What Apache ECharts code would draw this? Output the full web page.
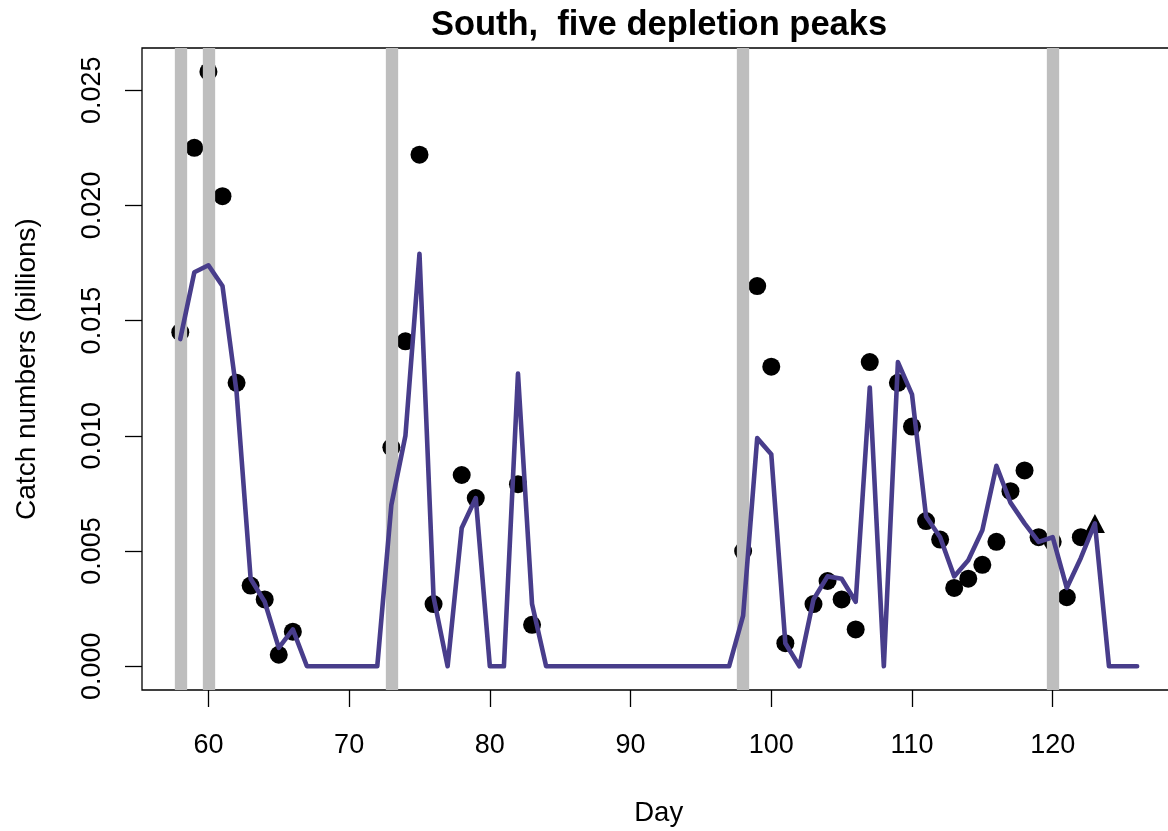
<!DOCTYPE html>
<html>
<head>
<meta charset="utf-8">
<script src="https://cdn.jsdelivr.net/npm/echarts@6/dist/echarts.min.js"></script>
<style>
html,body{margin:0;padding:0;background:#fff;}
#chart{width:1168px;height:831px;}
</style>
</head>
<body>
<div id="chart"></div>
<script>
// ---- data ----
const lineDays = [58,59,60,61,62,63,64,65,66,67,68,69,70,71,72,73,74,75,76,77,78,79,80,81,82,83,
  84,85,86,87,88,89,90,91,92,93,94,95,96,97,98,99,100,101,102,103,104,105,106,107,108,109,110,
  111,112,113,114,115,116,117,118,119,120,121,122,123,124,125,126];
const lineValues = [0.0142,0.0171,0.0174,0.0165,0.0119,0.0038,0.0028,0.0008,0.0016,0,0,0,0,0,0,
  0.0070,0.0100,0.0179,0.0030,0,0.0060,0.0073,0,0,0.0127,0.0027,
  0,0,0,0,0,0,0,0,0,0,0,0,0,0,
  0.0022,0.0099,0.0092,0.0010,0,0.0029,0.0039,0.0038,0.0028,0.0121,0,0.0132,0.0118,
  0.0065,0.0056,0.0039,0.0046,0.0059,0.0087,0.0071,0.0062,0.0054,0.0056,0.0034,0.0047,0.0062,0,0,0];
const obsDays = [58,59,60,61,62,63,64,65,66,73,74,75,76,78,79,82,83,98,99,100,101,103,104,105,106,107,
  109,110,111,112,113,114,115,116,117,118,119,120,121,122];
const obsValues = [0.0145,0.0225,0.0258,0.0204,0.0123,0.0035,0.0029,0.0005,0.0015,
  0.0095,0.0141,0.0222,0.0027,0.0083,0.0073,0.0079,0.0018,
  0.0050,0.0165,0.0130,0.0010,0.0027,0.0037,0.0029,0.0016,0.0132,
  0.0123,0.0104,0.0063,0.0055,0.0034,0.0038,0.0044,0.0054,0.0076,0.0085,0.0056,0.0054,0.0030,0.0056];
const lastDay = [123];
const lastValue = [0.0062];
const peakDays = [58,60,73,98,120];
const xTicks = [60,70,80,90,100,110,120];
const yTicks = [0,0.005,0.010,0.015,0.020,0.025];
const titleText = 'South,  five depletion peaks';
const xName = 'Day';
const yName = 'Catch numbers (billions)';

// ---- chart ----
const font = "'Liberation Sans', Arial, Helvetica, sans-serif";
const chart = echarts.init(document.getElementById('chart'), null, {renderer:'canvas'});
const linePts = lineDays.map((d,i)=>[d,lineValues[i]]);
const obsPts = obsDays.map((d,i)=>[d,obsValues[i]]);
const lastPts = lastDay.map((d,i)=>[d,lastValue[i]]);

chart.setOption({
  animation:false,
  backgroundColor:'#fff',
  title:{
    text:titleText, left:654, top:3, textAlign:'center',
    textStyle:{fontFamily:font, fontWeight:'bold', fontSize:34.5, color:'#000'}
  },
  grid:{left:142, right:-7.4, top:48, bottom:141, show:true, borderColor:'#000', borderWidth:1.3,
    backgroundColor:'transparent', containLabel:false, outerBoundsMode:'none'},
  xAxis:{
    type:'value', min:55.28, max:128.72,
    splitLine:{show:false},
    axisLine:{show:false, onZero:false},
    axisTick:{show:true, inside:false, length:17, customValues:xTicks, lineStyle:{color:'#000', width:1.3}},
    axisLabel:{show:true, customValues:xTicks, margin:42, fontFamily:font, fontSize:27, color:'#000'},
    name:xName, nameLocation:'middle', nameGap:109,
    nameTextStyle:{fontFamily:font, fontSize:27.5, color:'#000'}
  },
  yAxis:{
    type:'value', min:-0.00103, max:0.02683,
    splitLine:{show:false},
    axisLine:{show:false, onZero:false},
    axisTick:{show:true, inside:false, length:17, customValues:yTicks, lineStyle:{color:'#000', width:1.3}},
    axisLabel:{show:true, customValues:yTicks, rotate:90, margin:36, fontFamily:font, fontSize:27, color:'#000',
      formatter:v=>v.toFixed(3)},
    name:yName, nameLocation:'middle', nameGap:101, nameRotate:90,
    nameTextStyle:{fontFamily:font, fontSize:28, color:'#000'}
  },
  series:[
    {
      type:'line', data:[], z:1, silent:true,
      markLine:{
        silent:true, symbol:'none', animation:false,
        label:{show:false},
        lineStyle:{color:'#bebebe', width:12.3, type:'solid', opacity:1},
        emphasis:{disabled:true},
        data:peakDays.map(d=>({xAxis:d}))
      }
    },
    {
      type:'scatter', data:obsPts, z:3, symbol:'circle', symbolSize:18,
      itemStyle:{color:'#000', opacity:1}
    },
    {
      type:'scatter', data:lastPts, z:4, symbol:'triangle', symbolSize:[20,19],
      itemStyle:{color:'#000', opacity:1}
    },
    {
      type:'line', data:linePts, z:5, showSymbol:false, symbol:'none',
      lineStyle:{color:'#483D8B', width:4.6, join:'round', cap:'round'}
    }
  ]
});
</script>
</body>
</html>
